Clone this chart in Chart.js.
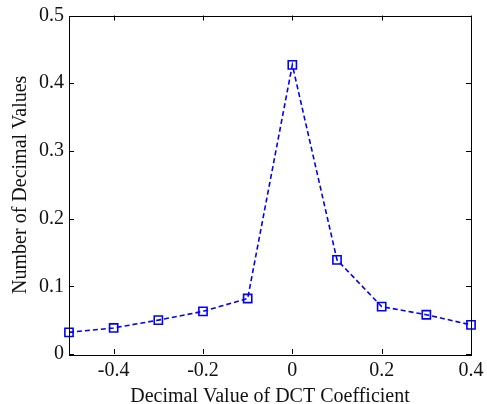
<!DOCTYPE html>
<html>
<head>
<meta charset="utf-8">
<script src="https://cdn.jsdelivr.net/npm/chart.js@4/dist/chart.umd.min.js"></script>
<style>
  html, body { margin: 0; padding: 0; background: #fff; }
  #wrap { width: 487px; height: 404px; }
</style>
</head>
<body>
<div id="wrap"><canvas id="dctChart" width="487" height="404"></canvas></div>
<script>
// values
const xValues = [-0.5, -0.4, -0.3, -0.2, -0.1, 0, 0.1, 0.2, 0.3, 0.4];
const yValues = [0.032, 0.0385, 0.050, 0.063, 0.082, 0.427, 0.139, 0.070, 0.058, 0.043];
const xTicks = [-0.4, -0.2, 0, 0.2, 0.4];
const yTicks = [0, 0.1, 0.2, 0.3, 0.4, 0.5];

const fontFamily = "'Liberation Serif', 'Times New Roman', serif";

// MATLAB-like box with inward ticks on all four sides
const boxTicks = {
  id: 'boxTicks',
  afterDraw(chart) {
    const { ctx, chartArea: a, scales } = chart;
    ctx.save();
    ctx.strokeStyle = '#000';
    ctx.lineWidth = 1;
    ctx.strokeRect(Math.round(a.left) + 0.5, Math.round(a.top) + 0.5,
      Math.round(a.right - a.left), Math.round(a.bottom - a.top));
    const len = 5;
    ctx.beginPath();
    xTicks.forEach(v => {
      const px = Math.round(scales.x.getPixelForValue(v)) + 0.5;
      ctx.moveTo(px, a.bottom); ctx.lineTo(px, a.bottom - len);
      ctx.moveTo(px, a.top); ctx.lineTo(px, a.top + len);
    });
    yTicks.forEach(v => {
      const py = Math.round(scales.y.getPixelForValue(v)) + 0.5;
      ctx.moveTo(a.left, py); ctx.lineTo(a.left + len, py);
      ctx.moveTo(a.right, py); ctx.lineTo(a.right - len, py);
    });
    ctx.stroke();
    ctx.restore();
  }
};

const ctx = document.getElementById('dctChart').getContext('2d');
new Chart(ctx, {
  type: 'line',
  data: {
    datasets: [{
      data: xValues.map((x, i) => ({ x: x, y: yValues[i] })),
      borderColor: '#0000ff',
      borderWidth: 1.6,
      borderDash: [5, 3],
      fill: false,
      tension: 0,
      pointStyle: 'rect',
      pointRadius: 5.8,
      pointBorderWidth: 1.6,
      pointBorderColor: '#0000ff',
      pointBackgroundColor: 'rgba(0,0,0,0)',
      clip: false
    }]
  },
  options: {
    responsive: false,
    animation: false,
    layout: { padding: { top: 4, right: 16, bottom: -2, left: 10 } },
    plugins: { legend: { display: false }, tooltip: { enabled: false } },
    scales: {
      x: {
        type: 'linear',
        min: -0.5,
        max: 0.4,
        afterBuildTicks: s => { s.ticks = xTicks.map(v => ({ value: v })); },
        // let the layout padding alone decide the right edge
        afterFit: s => { s.paddingRight = 0; s.paddingLeft = 0; },
        ticks: {
          color: '#111',
          font: { family: fontFamily, size: 20, lineHeight: 0.85 },
          padding: 8,
          maxRotation: 0,
          callback: v => String(Math.round(v * 10) / 10)
        },
        grid: { display: false, drawTicks: false, tickLength: 0 },
        border: { display: false },
        title: {
          display: true,
          text: 'Decimal Value of DCT Coefficient',
          color: '#111',
          font: { family: fontFamily, size: 20, lineHeight: 0.95 },
          padding: { top: 0, bottom: 0 }
        }
      },
      y: {
        min: 0,
        max: 0.5,
        afterBuildTicks: s => { s.ticks = yTicks.map(v => ({ value: v })); },
        ticks: {
          color: '#111',
          font: { family: fontFamily, size: 20, lineHeight: 1.05 },
          padding: 5,
          callback: v => String(Math.round(v * 10) / 10)
        },
        grid: { display: false, drawTicks: false, tickLength: 0 },
        border: { display: false },
        title: {
          display: true,
          text: 'Number of Decimal Values',
          color: '#111',
          font: { family: fontFamily, size: 20, lineHeight: 1.05 },
          padding: { top: 0, bottom: 3 }
        }
      }
    }
  },
  plugins: [boxTicks]
});
</script>
</body>
</html>
